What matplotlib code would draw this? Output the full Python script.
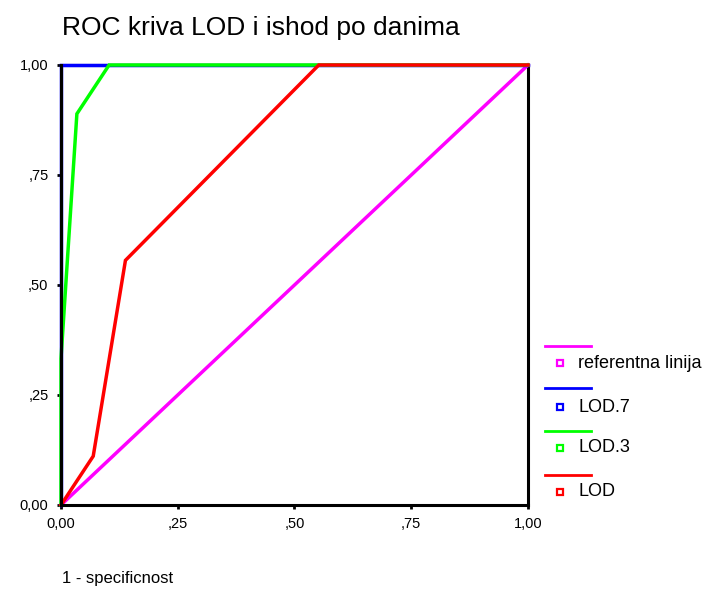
import matplotlib
matplotlib.use("Agg")
import matplotlib.pyplot as plt
from matplotlib.lines import Line2D

plt.rcParams['font.family'] = ['Liberation Sans', 'DejaVu Sans']

# ROC curves: (1 - specificity, sensitivity)
ref_x = [0.0, 1.0]
ref_y = [0.0, 1.0]
lod7_x = [0.0, 0.0, 1.0]
lod7_y = [0.0, 1.0, 1.0]
lod3_x = [0.0, 0.0, 0.034, 0.103, 1.0]
lod3_y = [0.0, 0.333, 0.889, 1.0, 1.0]
lod_x = [0.0, 0.069, 0.138, 0.552, 1.0]
lod_y = [0.0, 0.111, 0.556, 1.0, 1.0]

series = [
    ("referentna linija", ref_x, ref_y, "#ff00ff"),
    ("LOD.7", lod7_x, lod7_y, "#0000ff"),
    ("LOD.3", lod3_x, lod3_y, "#00ff00"),
    ("LOD", lod_x, lod_y, "#ff0000"),
]

ticks = [0.0, 0.25, 0.5, 0.75, 1.0]
tick_labels = ["0,00", ",25", ",50", ",75", "1,00"]

fig = plt.figure(figsize=(7.08, 5.93), dpi=100)
ax = fig.add_axes([61 / 708, 1 - 505 / 593, 467 / 708, 440 / 593])

for name, xs, ys, color in series:
    ax.plot(xs, ys, color=color, lw=2.5, solid_joinstyle='miter', clip_on=False, zorder=5)

ax.set_xlim(0, 1)
ax.set_ylim(0, 1)
ax.set_xticks(ticks)
ax.set_xticklabels(tick_labels)
ax.set_yticks(ticks)
ax.set_yticklabels(tick_labels)
ax.tick_params(direction='out', length=3, width=2, labelsize=10.5, pad=6, colors='black')
for side, s in ax.spines.items():
    s.set_linewidth(2.2)
    # left and bottom frame sit over the curves, top and right under them
    s.set_zorder(6 if side in ('left', 'bottom') else 2)

fig.text(62 / 708, 1 - 28 / 593, "ROC kriva LOD i ishod po danima", fontsize=19,
         va='center', ha='left')
fig.text(62 / 708, 1 - 578 / 593, "1 - specificnost", fontsize=12, va='center', ha='left')

# legend: line on one row, square marker and label on the next
leg_lines = [346, 388, 431, 475]
leg_marks = [363, 407, 448, 492]
for (name, xs, ys, color), ly, my in zip(series, leg_lines, leg_marks):
    ly = 1 - ly / 593
    my = 1 - my / 593
    fig.add_artist(Line2D([545 / 708, 591 / 708], [ly, ly], color=color, lw=2))
    fig.add_artist(Line2D([560 / 708], [my], marker='s', markersize=4.5,
                          markerfacecolor='white', markeredgecolor=color, markeredgewidth=1.6))
    fig.text(578 / 708, my, name, fontsize=13, va='center', ha='left')

fig.savefig("out.png", dpi=100)
